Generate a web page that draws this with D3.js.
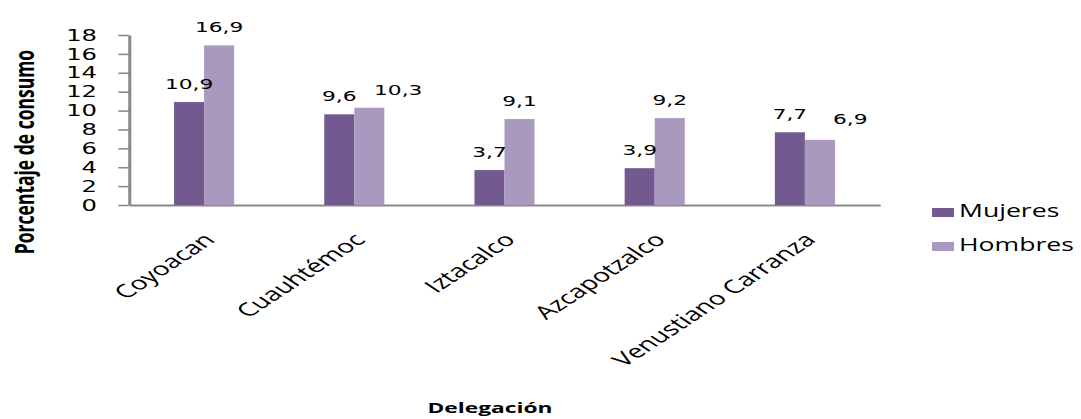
<!DOCTYPE html>
<html>
<head>
<meta charset="utf-8">
<script src="https://cdn.jsdelivr.net/npm/d3@7"></script>
<style>
  html, body { margin: 0; padding: 0; background: #fff; }
  svg { display: block; }
</style>
</head>
<body>
<svg id="chart" width="1081" height="419"></svg>
<script>
// Consumo por delegación y sexo
const categories = ["Coyoacan", "Cuauhtémoc", "Iztacalco", "Azcapotzalco", "Venustiano Carranza"];
const seriesNames = ["Mujeres", "Hombres"];
const mujeres = [10.9, 9.6, 3.7, 3.9, 7.7];
const hombres = [16.9, 10.3, 9.1, 9.2, 6.9];
const yTicks = [0, 2, 4, 6, 8, 10, 12, 14, 16, 18];
const colors = ["#72598f", "#a999be"];

// hand-placed data labels that were moved aside to stay readable: [dx, dy]
const labelNudge = {
  "Cuauhtémoc|Hombres": [19, 0],
  "Venustiano Carranza|Hombres": [20, -3]
};

const SX = 1.52;               // wide horizontal aspect of the drawing
const svg = d3.select("#chart");
const root = svg.append("g").attr("transform", `scale(${SX},1)`);

const plotLeft = 129 / SX, plotRight = 880 / SX, plotTop = 35, plotBottom = 205;

const x0 = d3.scaleBand().domain(categories).range([plotLeft, plotRight])
  .paddingInner(0.6).paddingOuter(0.3);
const x1 = d3.scaleBand().domain(seriesNames).range([0, x0.bandwidth()]);
const y = d3.scaleLinear().domain([0, 18]).range([plotBottom, plotTop]);

const rows = categories.map((c, i) => ({ cat: c, vals: [mujeres[i], hombres[i]] }));

// y axis
const yAxis = root.append("g")
  .attr("transform", `translate(${plotLeft},0)`)
  .call(d3.axisLeft(y).tickValues(yTicks).tickFormat(d3.format("d"))
    .tickSize(7).tickSizeOuter(0).tickPadding(14));
yAxis.select(".domain").attr("stroke", "#898989").attr("stroke-width", 2);
yAxis.selectAll(".tick line").attr("stroke", "#898989").attr("stroke-width", 1.6);
yAxis.selectAll(".tick text")
  .attr("font-family", "DejaVu Sans, Verdana, sans-serif")
  .attr("font-size", 16).attr("fill", "#000");

// x axis
const xAxis = root.append("g")
  .attr("transform", `translate(0,${plotBottom})`)
  .call(d3.axisBottom(x0).tickSize(0).tickSizeOuter(0).tickFormat(""));
xAxis.select(".domain").attr("stroke", "#898989").attr("stroke-width", 2.2);

// bars
const groups = root.append("g").selectAll("g").data(rows).join("g")
  .attr("transform", d => `translate(${x0(d.cat)},0)`);
const cells = d => d.vals.map((v, k) => ({ cat: d.cat, v, k }));
groups.selectAll("rect").data(cells).join("rect")
  .attr("x", d => x1(seriesNames[d.k]))
  .attr("width", x1.bandwidth())
  .attr("y", d => y(d.v))
  .attr("height", d => y(0) - y(d.v))
  .attr("fill", d => colors[d.k]);

// value labels
const fmt = v => d3.format(".1f")(v).replace(".", ",");
const nudge = d => labelNudge[`${d.cat}|${seriesNames[d.k]}`] || [0, 0];
groups.selectAll("text").data(cells).join("text")
  .attr("x", d => x1(seriesNames[d.k]) + x1.bandwidth() / 2 + nudge(d)[0])
  .attr("y", d => y(d.v) - 13 + nudge(d)[1])
  .attr("text-anchor", "middle")
  .attr("font-family", "DejaVu Sans, Verdana, sans-serif")
  .attr("font-size", 14.3)
  .attr("fill", "#000")
  .text(d => fmt(d.v));

// category labels, slanted
root.append("g").selectAll("text").data(categories).join("text")
  .attr("transform", c => `translate(${x0(c) + x0.bandwidth() / 2 + 8},241) rotate(-45)`)
  .attr("text-anchor", "end")
  .attr("font-family", "Open Sans, sans-serif")
  .attr("font-size", 18.5)
  .attr("fill", "#000")
  .text(c => c);

// axis titles
root.append("text")
  .attr("transform", `translate(${34 / SX},${152}) rotate(-90)`)
  .attr("text-anchor", "middle")
  .attr("font-family", "Open Sans, sans-serif")
  .attr("font-weight", "bold")
  .attr("font-size", 17.5)
  .attr("fill", "#000")
  .text("Porcentaje de consumo");

root.append("text")
  .attr("x", 490 / SX).attr("y", 413)
  .attr("text-anchor", "middle")
  .attr("font-family", "Open Sans, sans-serif")
  .attr("font-weight", "bold")
  .attr("font-size", 15)
  .attr("fill", "#000")
  .text("Delegación");

// legend
const legend = root.append("g").selectAll("g").data(seriesNames).join("g")
  .attr("transform", (d, i) => `translate(${932 / SX},${208 + i * 34})`);
legend.append("rect")
  .attr("width", 22 / SX).attr("height", 9)
  .attr("fill", (d, i) => colors[i]);
legend.append("text")
  .attr("x", 27 / SX).attr("y", 9)
  .attr("font-family", "Open Sans, sans-serif")
  .attr("font-size", 17.5)
  .attr("fill", "#000")
  .text(d => d);
</script>
</body>
</html>
